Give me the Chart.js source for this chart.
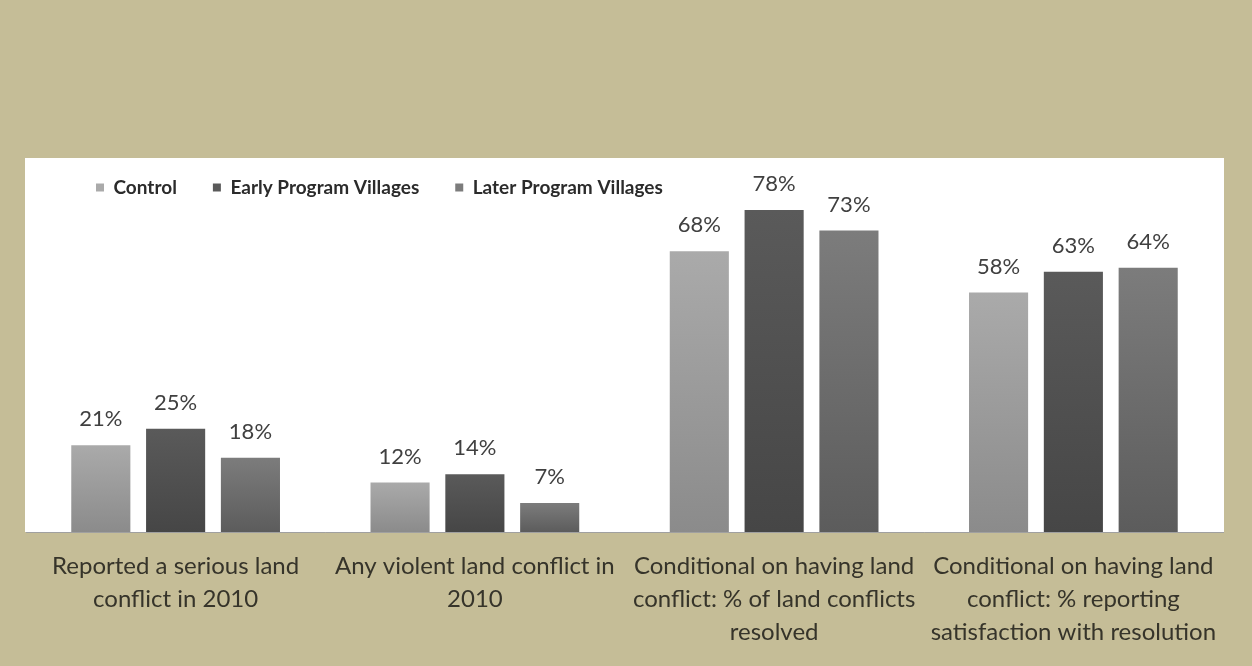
<!DOCTYPE html>
<html>
<head>
<meta charset="utf-8">
<title>Land conflict</title>
<script src="https://cdn.jsdelivr.net/npm/chart.js@4/dist/chart.umd.min.js"></script>
<style>
    html, body {
        margin: 0;
        padding: 0;
        background: #c5bd97;
    }
    #landChart {
        display: block;
    }
</style>
</head>
<body>
<canvas id="landChart" width="1252" height="666"></canvas>
<script>
// Survey results, percent of villages
const categories = [
    ['Reported a serious land', 'conflict in 2010'],
    ['Any violent land conflict in', '2010'],
    ['Conditional on having land', 'conflict: % of land conflicts', 'resolved'],
    ['Conditional on having land', 'conflict: % reporting', 'satisfaction with resolution']
];
const seriesNames = ['Control', 'Early Program Villages', 'Later Program Villages'];
const controlValues = [21, 12, 68, 58];
const earlyValues = [25, 14, 78, 63];
const laterValues = [18, 7, 73, 64];

// Vertical gradient per bar, lighter at the top
function barFill(topColor, bottomColor, flatColor) {
    return function(context) {
        const chart = context.chart;
        if (context.type !== 'data' || !chart.chartArea || !chart.scales.y) {
            return flatColor;
        }
        const y = chart.scales.y;
        const g = chart.ctx.createLinearGradient(0, y.getPixelForValue(context.raw), 0, y.getPixelForValue(0));
        g.addColorStop(0, topColor);
        g.addColorStop(1, bottomColor);
        return g;
    };
}

// White plot panel behind the bars
const panelPlugin = {
    id: 'panel',
    beforeDraw(chart, args, opts) {
        const { ctx, chartArea } = chart;
        ctx.save();
        ctx.fillStyle = '#ffffff';
        ctx.fillRect(chartArea.left - 1, opts.top, chartArea.right - chartArea.left + 2, chartArea.bottom - opts.top);
        ctx.restore();
    }
};

// Move the legend row in from the left edge
const legendIndentPlugin = {
    id: 'legendIndent',
    afterLayout(chart, args, opts) {
        if (chart.legend) {
            chart.legend.left = opts.left;
        }
    }
};

// Percent labels above each bar
const valueLabelPlugin = {
    id: 'valueLabels',
    afterDatasetsDraw(chart, args, opts) {
        const ctx = chart.ctx;
        ctx.save();
        ctx.font = opts.font;
        ctx.fillStyle = opts.color;
        ctx.textAlign = 'center';
        ctx.textBaseline = 'middle';
        chart.data.datasets.forEach((ds, i) => {
            const meta = chart.getDatasetMeta(i);
            meta.data.forEach((bar, j) => {
                ctx.fillText(ds.data[j] + '%', bar.x, bar.y - opts.offset);
            });
        });
        ctx.restore();
    }
};

new Chart(document.getElementById('landChart'), {
    type: 'bar',
    data: {
        labels: categories,
        datasets: [
            {
                label: seriesNames[0],
                data: controlValues,
                backgroundColor: barFill('#aaaaaa', '#8b8b8b', '#9b9b9b')
            },
            {
                label: seriesNames[1],
                data: earlyValues,
                backgroundColor: barFill('#5a5a5a', '#464646', '#505050')
            },
            {
                label: seriesNames[2],
                data: laterValues,
                backgroundColor: barFill('#7c7c7c', '#5c5c5c', '#6c6c6c')
            }
        ]
    },
    options: {
        responsive: false,
        animation: false,
        devicePixelRatio: 1,
        layout: {
            padding: { top: 142, left: 26, right: 29, bottom: 0 }
        },
        datasets: {
            bar: {
                categoryPercentage: 0.75,
                barPercentage: 0.79
            }
        },
        plugins: {
            panel: { top: 158 },
            legendIndent: { left: 60 },
            valueLabels: {
                font: '22px Lato',
                color: '#404040',
                offset: 26
            },
            legend: {
                position: 'top',
                align: 'start',
                labels: {
                    boxWidth: 8,
                    boxHeight: 8,
                    padding: 36,
                    color: '#2b2b2b',
                    font: { family: 'Lato', size: 19, weight: 'bold' }
                }
            },
            tooltip: { enabled: false }
        },
        scales: {
            x: {
                grid: { display: false, drawTicks: false },
                border: { color: '#a0a0a0', width: 1 },
                ticks: {
                    autoSkip: false,
                    maxRotation: 0,
                    padding: 18,
                    color: '#36342a',
                    font: { family: 'Lato', size: 24, lineHeight: 1.375 }
                },
                afterFit(scale) {
                    scale.height = 134;
                }
            },
            y: {
                display: false,
                min: 0,
                max: 78.7
            }
        }
    },
    plugins: [panelPlugin, legendIndentPlugin, valueLabelPlugin]
});
</script>
</body>
</html>
